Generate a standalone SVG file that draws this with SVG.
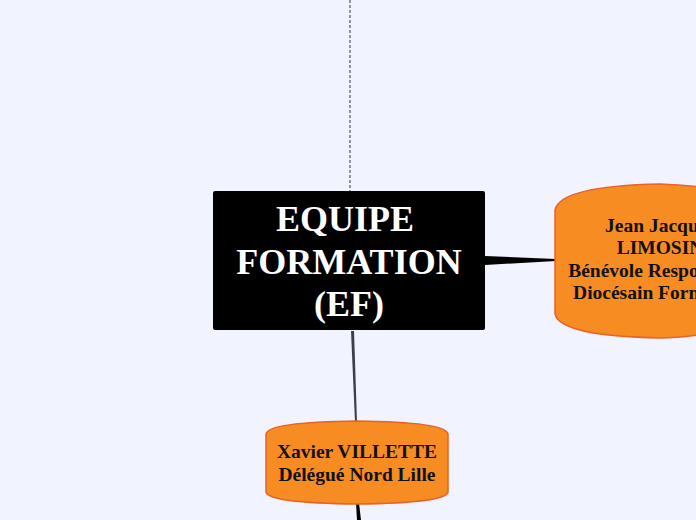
<svg xmlns="http://www.w3.org/2000/svg" width="696" height="520" viewBox="0 0 696 520">
<style>
.t{font-family:"Liberation Serif",serif;font-weight:bold;text-anchor:middle}
.o{fill:#f78c22;stroke:#e8622a;stroke-width:1.5}
</style>
<rect width="696" height="520" fill="#f1f4fe"/>
<g id="connectors">
<line x1="350" y1="0" x2="350" y2="191" stroke="#333" stroke-width="1" stroke-dasharray="3,2"/>
<polygon points="485,256 485,265 556,261 556,259" fill="#000"/>
<polygon points="351,331 354,331 357,422 355,422" fill="#3c3f48"/>
<polygon points="356,503 359,503 361,520 357,520" fill="#000"/>
</g>
<g id="central">
<rect x="213" y="191" width="272" height="139" rx="2" fill="#000"/>
<text class="t" font-size="36" fill="#fff"><tspan x="345" y="231">EQUIPE</tspan><tspan x="349" y="274">FORMATION</tspan><tspan x="349" y="316">(EF)</tspan></text>
</g>
<g id="jean">
<path class="o" d="M555,210 Q560,186 660,184 Q720,186 760,200 L760,322 Q700,338 660,338 Q560,336 555,314 Z"/>
<text class="t" font-size="19.5" fill="#111"><tspan x="660" y="232">Jean Jacques</tspan><tspan x="660" y="254">LIMOSIN</tspan><tspan x="660" y="277">Bénévole Responsable</tspan><tspan x="660" y="299">Diocésain Formation</tspan></text>
</g>
<g id="xavier">
<path class="o" d="M266,434 Q268,422 357,421 Q446,422 448,434 L448,492 Q446,503 357,504 Q268,503 266,492 Z"/>
<text class="t" font-size="19.5" fill="#111"><tspan x="357" y="458">Xavier VILLETTE</tspan><tspan x="357" y="481">Délégué Nord Lille</tspan></text>
</g>
</svg>
